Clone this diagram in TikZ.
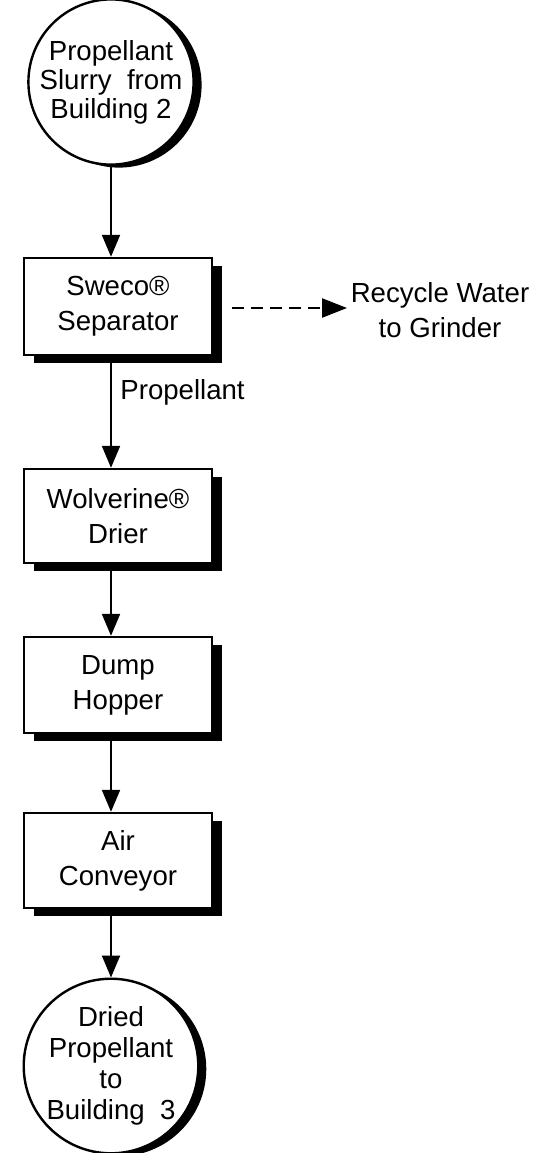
\documentclass[tikz,border=0pt]{standalone}
\usepackage{fontspec}
\setmainfont{Liberation Sans}
\usetikzlibrary{arrows.meta,shadows}
\begin{document}
\begin{tikzpicture}[x=0.5pt,y=-0.5pt,
  boxsh/.style={general shadow={fill=black, shadow xshift=5pt, shadow yshift=-4pt}},
  circsh/.style={general shadow={fill=black, shadow xshift=4pt, shadow yshift=-1.5pt}},
  stepbox/.style={draw=black, line width=1.2pt, fill=white, boxsh, minimum width=94pt, minimum height=48pt, align=center, inner sep=0pt,
     font=\fontsize{13.8}{17.5}\selectfont},
  term/.style={circle, draw=black, line width=1.2pt, fill=white, circsh, align=center, inner sep=0pt},
  arr/.style={line width=1pt, -{Triangle[length=11pt,width=9pt]}},
  dasharr/.style={line width=1.2pt, dash pattern=on 6pt off 3.5pt, -{Triangle[length=12.5pt,width=9.5pt]}},
  lbl/.style={font=\fontsize{13.8}{17.5}\selectfont, align=center, inner sep=0pt}]
\useasboundingbox (0,0) rectangle (535,1153);
\node[term, minimum size=78pt, font=\fontsize{13.8}{14.5}\selectfont] (top) at (111,82) {Propellant\\Slurry\ \ from\\Building 2};
\node[stepbox, minimum height=48.5pt] (sweco) at (118,306.5) {Sweco®\\Separator};
\node[stepbox, minimum height=47pt] (wolv) at (118,516) {Wolverine®\\Drier};
\node[stepbox] (dump) at (118,685) {Dump\\Hopper};
\node[stepbox, minimum height=47.5pt] (air) at (118,860.5) {Air\\Conveyor};
\node[term, minimum size=83pt, font=\fontsize{13.8}{15.5}\selectfont] (bot) at (111,1066) {Dried\\Propellant\\to\\Building\ \ 3};
\node[lbl] (recycle) at (440,310) {Recycle Water\\to Grinder};
\node[lbl, anchor=west] (plab) at (120,392) {Propellant};
\draw[arr] (top.south) -- (top.south |- sweco.north);
\draw[arr] (top.south |- sweco.south) -- (top.south |- wolv.north);
\draw[arr] (top.south |- wolv.south) -- (top.south |- dump.north);
\draw[arr] (top.south |- dump.south) -- (top.south |- air.north);
\draw[arr] (top.south |- air.south) -- (bot.north);
\coordinate (dstart) at (232,308);
\coordinate (dend) at (347,308);
\draw[dasharr] (dstart) -- (dend);
\end{tikzpicture}
\end{document}
